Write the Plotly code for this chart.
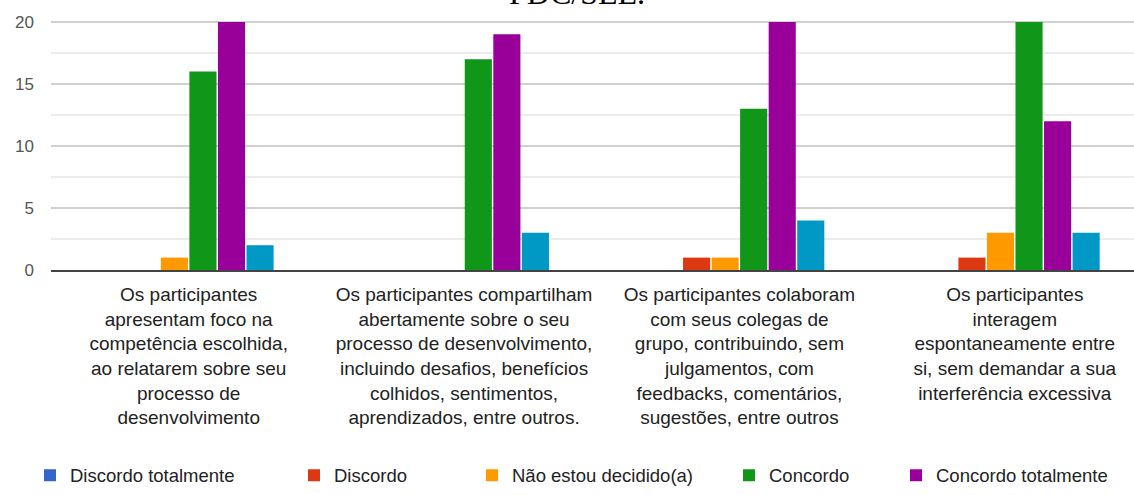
import plotly.graph_objects as go

categories = [
    "Os participantes<br>apresentam foco na<br>competência escolhida,<br>ao relatarem sobre seu<br>processo de<br>desenvolvimento",
    "Os participantes compartilham<br>abertamente sobre o seu<br>processo de desenvolvimento,<br>incluindo desafios, benefícios<br>colhidos, sentimentos,<br>aprendizados, entre outros.",
    "Os participantes colaboram<br>com seus colegas de<br>grupo, contribuindo, sem<br>julgamentos, com<br>feedbacks, comentários,<br>sugestões, entre outros",
    "Os participantes<br>interagem<br>espontaneamente entre<br>si, sem demandar a sua<br>interferência excessiva",
]

series_names = ["Discordo totalmente", "Discordo", "Não estou decidido(a)",
                "Concordo", "Concordo totalmente", "Não se aplica"]
discordo_totalmente = [0, 0, 0, 0]
discordo = [0, 0, 1, 1]
nao_decidido = [1, 0, 1, 3]
concordo = [16, 17, 13, 20]
concordo_totalmente = [20, 19, 20, 12]
nao_se_aplica = [2, 3, 4, 3]
series_values = [discordo_totalmente, discordo, nao_decidido,
                 concordo, concordo_totalmente, nao_se_aplica]
colors = ["#3366CC", "#DC3912", "#FF9900", "#109618", "#990099", "#0099C6"]

y_ticks = [0, 5, 10, 15, 20]
title_text = "PDC/SEE."

W, H = 1134, 495
ML, MR, MT, MB = 51, 0, 17, 221
PW = W - ML - MR
PH = H - MT - MB

x_idx = list(range(len(categories)))

fig = go.Figure()
legend_text_starts = [75, 339, 517, 774, 941]
for k, (name, vals, col) in enumerate(zip(series_names, series_values, colors)):
    lg = "legend" if k == 0 else f"legend{k+1}"
    fig.add_trace(go.Bar(
        x=x_idx, y=vals, name=name,
        marker=dict(color=col, line=dict(width=0)),
        showlegend=(k < 5),
        legend=lg if k < 5 else "legend",
    ))

legend_y = -(483 - 274) / PH
layout_legends = {}
for k in range(5):
    key = "legend" if k == 0 else f"legend{k+1}"
    xpx = legend_text_starts[k] - 45
    layout_legends[key] = dict(
        x=(xpx - ML) / PW, y=legend_y, xanchor="left", yanchor="middle",
        orientation="h", bgcolor="rgba(0,0,0,0)",
        font=dict(family="Liberation Sans, Arial, sans-serif", size=18.5, color="#222222"),
    )

fig.update_layout(
    width=W, height=H,
    margin=dict(l=ML, r=MR, t=MT, b=MB),
    paper_bgcolor="white", plot_bgcolor="white",
    barmode="group", bargap=0.378, bargroupgap=0.05,
    **layout_legends,
)

fig.update_xaxes(
    range=[-0.5, 3.433], tickvals=x_idx, ticktext=categories,
    tickfont=dict(family="Liberation Sans, Arial, sans-serif", size=19, color="#222222"),
    showgrid=False, showline=True, linecolor="#444444", linewidth=2,
    ticks="", ticklabelstandoff=6, fixedrange=True,
)
fig.update_yaxes(
    range=[0, 20.4], tickvals=y_ticks,
    tickfont=dict(family="Liberation Sans, Arial, sans-serif", size=17, color="#555555"),
    showgrid=True, gridcolor="#d0d0d0", gridwidth=1.5,
    minor=dict(dtick=2.5, showgrid=True, gridcolor="#ececec", gridwidth=1.5),
    zeroline=False, showline=False, ticks="", ticklabelstandoff=16,
)

fig.add_annotation(
    text=title_text, xref="paper", yref="paper",
    x=(577 - ML) / PW, y=(274 - 13) / PH, xanchor="center", yanchor="bottom",
    showarrow=False,
    font=dict(family="Liberation Serif, Times New Roman, serif", size=32, color="#000000"),
)

fig.write_html("out.html")
